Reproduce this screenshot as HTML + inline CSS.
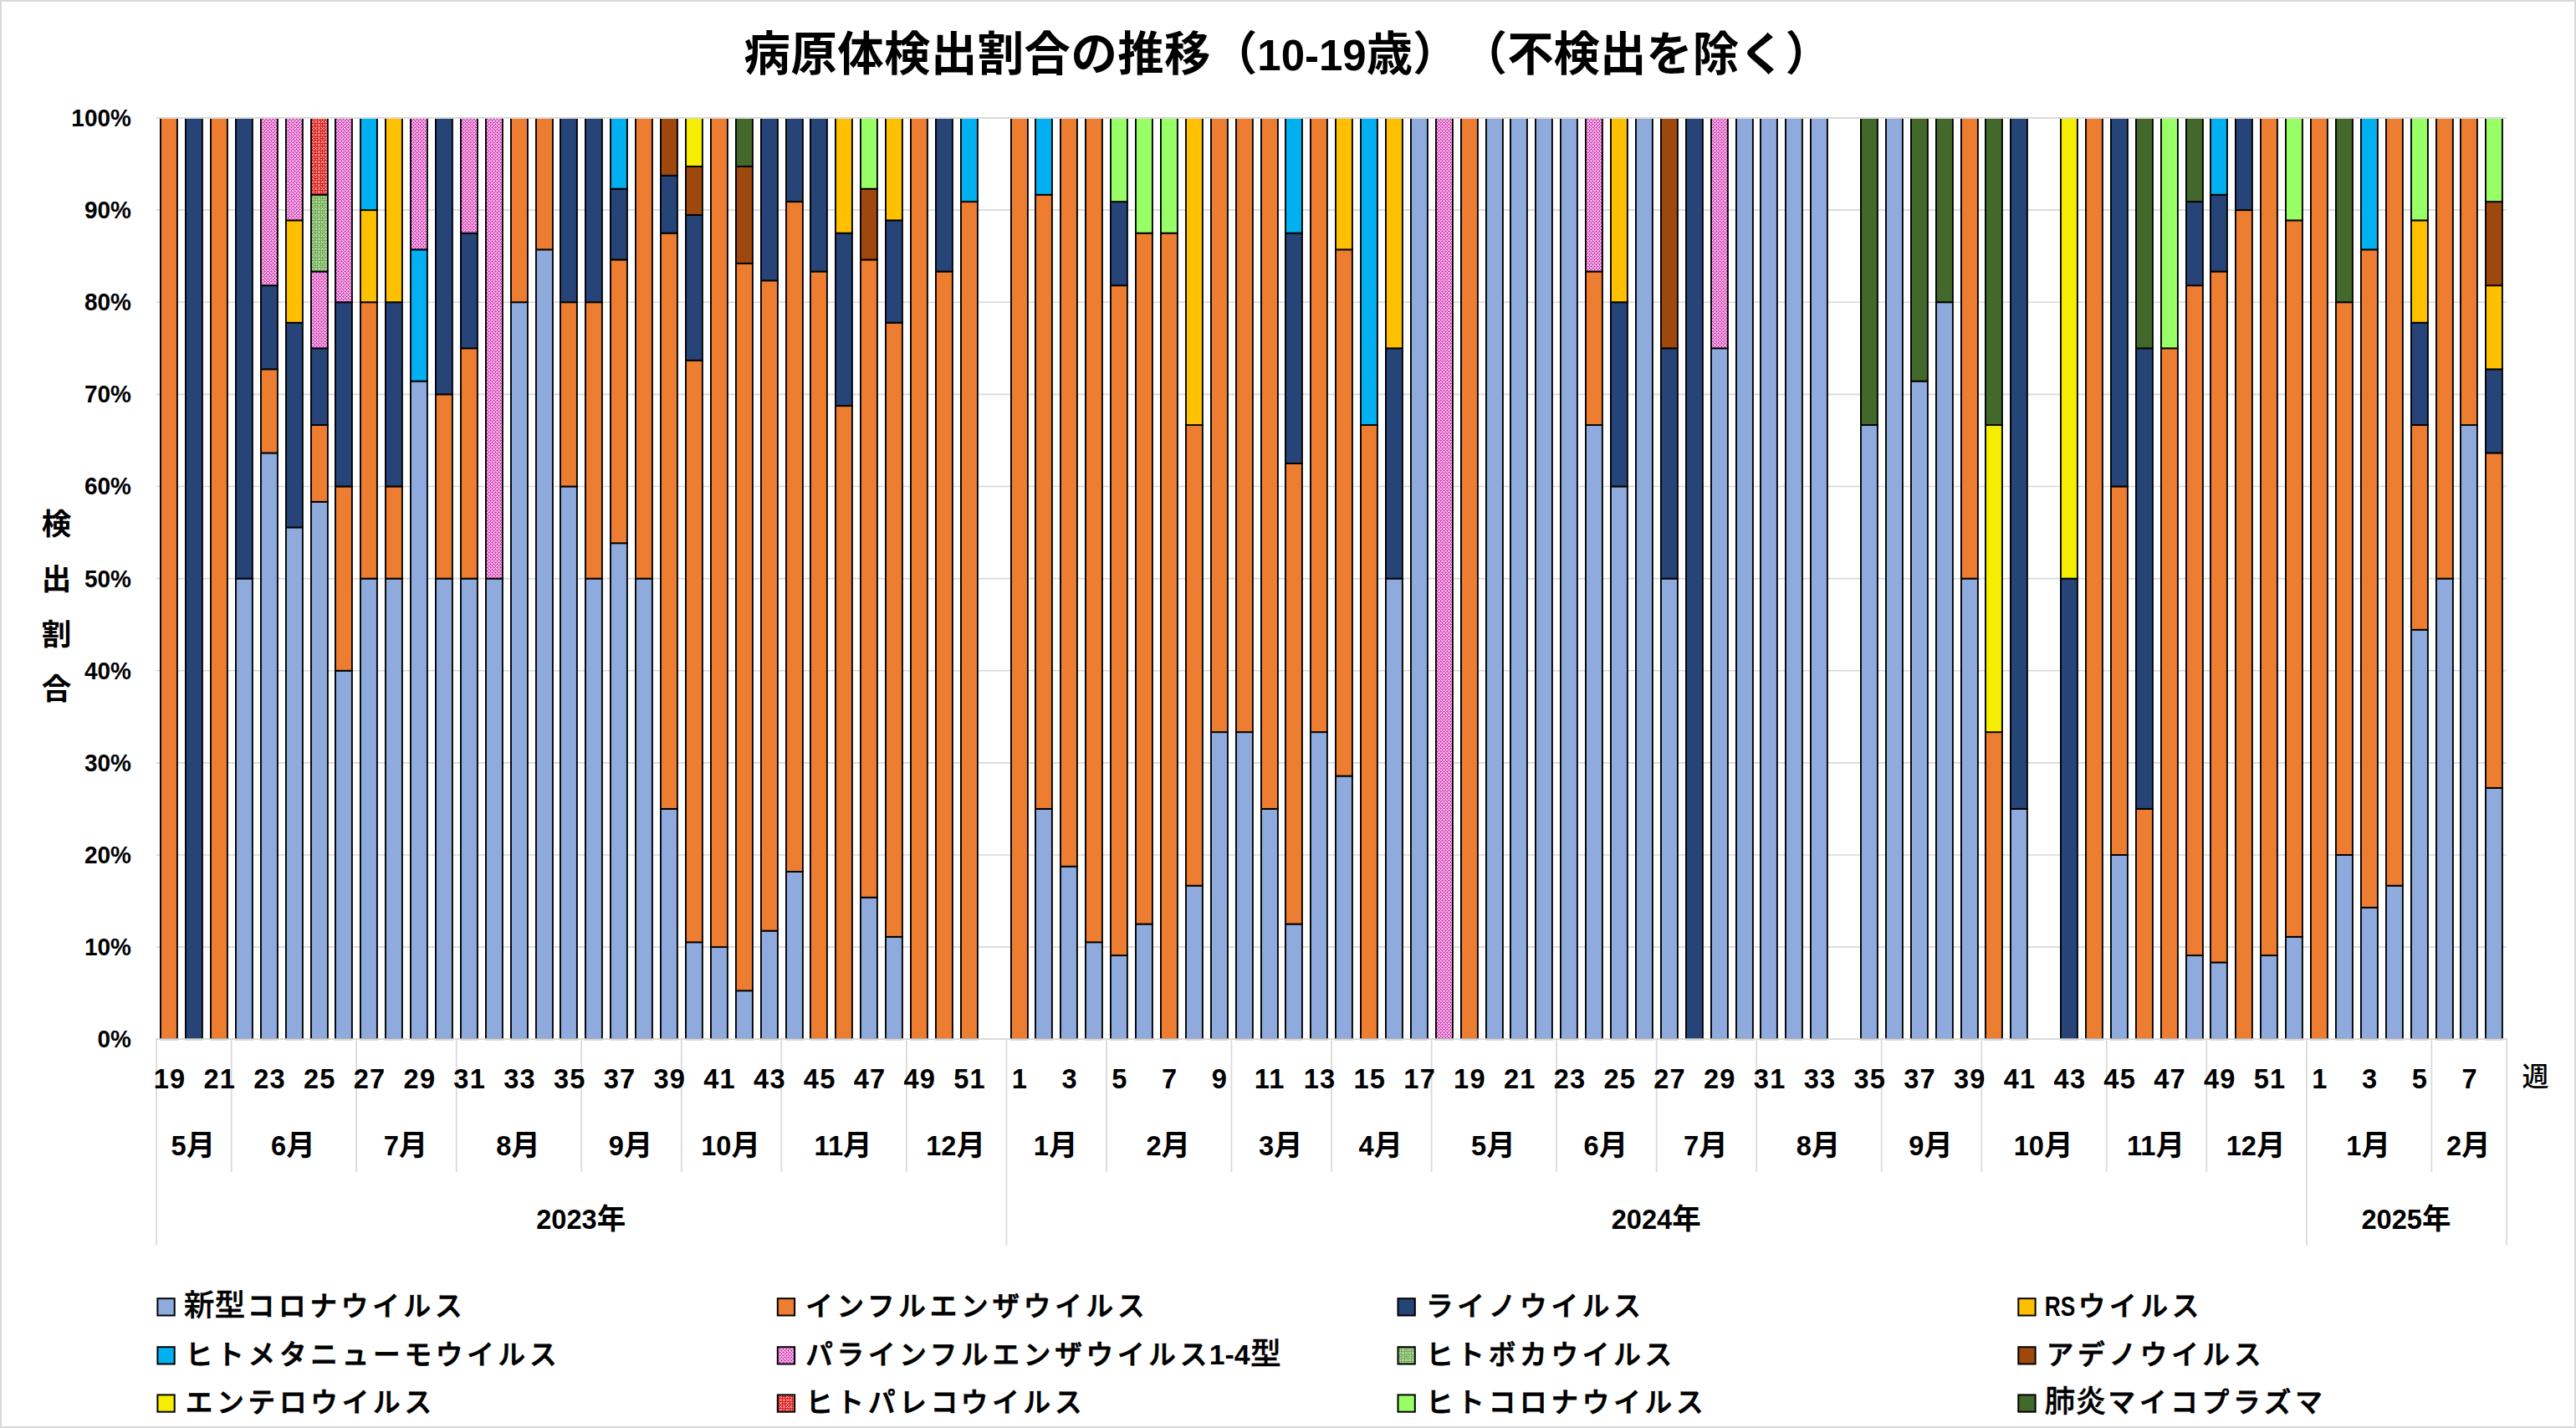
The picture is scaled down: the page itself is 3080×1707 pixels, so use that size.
<!DOCTYPE html>
<html lang="ja"><head><meta charset="utf-8"><title>病原体検出割合の推移（10-19歳）</title>
<style>html,body{margin:0;padding:0;background:#fff}svg{display:block}</style></head>
<body>
<svg width="3080" height="1707" viewBox="0 0 3080 1707">
<defs>
<pattern id="pP" width="4" height="4" patternUnits="userSpaceOnUse"><rect width="4" height="4" fill="#fff"/><g fill="#D63CB6"><rect x="0" y="0" width="1" height="1"/><rect x="1" y="0" width="1" height="1"/><rect x="3" y="0" width="1" height="1"/><rect x="0" y="1" width="1" height="1"/><rect x="0" y="3" width="1" height="1"/><rect x="2" y="2" width="1" height="1"/><rect x="1" y="2" width="1" height="1"/><rect x="3" y="2" width="1" height="1"/><rect x="2" y="1" width="1" height="1"/><rect x="2" y="3" width="1" height="1"/></g></pattern>
<pattern id="pK" width="8" height="8" patternUnits="userSpaceOnUse"><rect width="8" height="8" fill="#DC1414"/><g fill="#FBE0E0"><rect x="0" y="0" width="1" height="1"/><rect x="2" y="0" width="1" height="1"/><rect x="4" y="0" width="1" height="1"/><rect x="6" y="0" width="1" height="1"/><rect x="0" y="2" width="1" height="1"/><rect x="2" y="2" width="1" height="1"/><rect x="4" y="2" width="1" height="1"/><rect x="6" y="2" width="1" height="1"/><rect x="0" y="4" width="1" height="1"/><rect x="2" y="4" width="1" height="1"/><rect x="4" y="4" width="1" height="1"/><rect x="6" y="4" width="1" height="1"/><rect x="0" y="6" width="1" height="1"/><rect x="2" y="6" width="1" height="1"/><rect x="4" y="6" width="1" height="1"/><rect x="6" y="6" width="1" height="1"/><rect x="1" y="1" width="1" height="1"/><rect x="5" y="1" width="1" height="1"/><rect x="5" y="5" width="1" height="1"/></g></pattern>
<pattern id="pB" width="8" height="8" patternUnits="userSpaceOnUse"><rect width="8" height="8" fill="#6BA84F"/><g fill="#E4F8D8"><rect x="0" y="0" width="1" height="1"/><rect x="2" y="0" width="1" height="1"/><rect x="4" y="0" width="1" height="1"/><rect x="6" y="0" width="1" height="1"/><rect x="0" y="2" width="1" height="1"/><rect x="2" y="2" width="1" height="1"/><rect x="4" y="2" width="1" height="1"/><rect x="6" y="2" width="1" height="1"/><rect x="0" y="4" width="1" height="1"/><rect x="2" y="4" width="1" height="1"/><rect x="4" y="4" width="1" height="1"/><rect x="6" y="4" width="1" height="1"/><rect x="0" y="6" width="1" height="1"/><rect x="2" y="6" width="1" height="1"/><rect x="4" y="6" width="1" height="1"/><rect x="6" y="6" width="1" height="1"/><rect x="1" y="1" width="1" height="1"/><rect x="5" y="1" width="1" height="1"/><rect x="5" y="5" width="1" height="1"/></g></pattern>
<clipPath id="cp"><rect x="187" y="141" width="2810.04" height="1103.2"/></clipPath>
</defs>
<rect width="3080" height="1707" fill="#fff"/>
<g stroke="#d9d9d9" stroke-width="1.6" fill="none">
<path d="M187 141H2997.04"/>
<path d="M187 251.12H2997.04"/>
<path d="M187 361.24H2997.04"/>
<path d="M187 471.36H2997.04"/>
<path d="M187 581.48H2997.04"/>
<path d="M187 691.6H2997.04"/>
<path d="M187 801.72H2997.04"/>
<path d="M187 911.84H2997.04"/>
<path d="M187 1021.96H2997.04"/>
<path d="M187 1132.08H2997.04"/>
<path d="M187 1242.2H2997.04"/>
</g>
<g stroke="#000" stroke-width="1.9" clip-path="url(#cp)">
<rect x="191.95" y="141" width="19.95" height="1101.2" fill="#ED7D31"/>
<rect x="221.95" y="141" width="19.95" height="1101.2" fill="#264478"/>
<rect x="251.95" y="141" width="19.95" height="1101.2" fill="#ED7D31"/>
<rect x="281.95" y="691.6" width="19.95" height="550.6" fill="#8FAADC"/>
<rect x="281.95" y="141" width="19.95" height="550.6" fill="#264478"/>
<rect x="311.95" y="541.44" width="19.95" height="700.76" fill="#8FAADC"/>
<rect x="311.95" y="441.33" width="19.95" height="100.11" fill="#ED7D31"/>
<rect x="311.95" y="341.22" width="19.95" height="100.11" fill="#264478"/>
<rect x="311.95" y="141" width="19.95" height="200.22" fill="url(#pP)"/>
<rect x="341.95" y="630.42" width="19.95" height="611.78" fill="#8FAADC"/>
<rect x="341.95" y="385.71" width="19.95" height="244.71" fill="#264478"/>
<rect x="341.95" y="263.36" width="19.95" height="122.36" fill="#FFC000"/>
<rect x="341.95" y="141" width="19.95" height="122.36" fill="url(#pP)"/>
<rect x="371.95" y="599.83" width="19.95" height="642.37" fill="#8FAADC"/>
<rect x="371.95" y="508.07" width="19.95" height="91.77" fill="#ED7D31"/>
<rect x="371.95" y="416.3" width="19.95" height="91.77" fill="#264478"/>
<rect x="371.95" y="324.53" width="19.95" height="91.77" fill="url(#pP)"/>
<rect x="371.95" y="232.77" width="19.95" height="91.77" fill="url(#pB)"/>
<rect x="371.95" y="141" width="19.95" height="91.77" fill="url(#pK)"/>
<rect x="400.95" y="801.72" width="19.95" height="440.48" fill="#8FAADC"/>
<rect x="400.95" y="581.48" width="19.95" height="220.24" fill="#ED7D31"/>
<rect x="400.95" y="361.24" width="19.95" height="220.24" fill="#264478"/>
<rect x="400.95" y="141" width="19.95" height="220.24" fill="url(#pP)"/>
<rect x="430.95" y="691.6" width="19.95" height="550.6" fill="#8FAADC"/>
<rect x="430.95" y="361.24" width="19.95" height="330.36" fill="#ED7D31"/>
<rect x="430.95" y="251.12" width="19.95" height="110.12" fill="#FFC000"/>
<rect x="430.95" y="141" width="19.95" height="110.12" fill="#00B0F0"/>
<rect x="460.95" y="691.6" width="19.95" height="550.6" fill="#8FAADC"/>
<rect x="460.95" y="581.48" width="19.95" height="110.12" fill="#ED7D31"/>
<rect x="460.95" y="361.24" width="19.95" height="220.24" fill="#264478"/>
<rect x="460.95" y="141" width="19.95" height="220.24" fill="#FFC000"/>
<rect x="490.95" y="455.63" width="19.95" height="786.57" fill="#8FAADC"/>
<rect x="490.95" y="298.31" width="19.95" height="157.31" fill="#00B0F0"/>
<rect x="490.95" y="141" width="19.95" height="157.31" fill="url(#pP)"/>
<rect x="520.95" y="691.6" width="19.95" height="550.6" fill="#8FAADC"/>
<rect x="520.95" y="471.36" width="19.95" height="220.24" fill="#ED7D31"/>
<rect x="520.95" y="141" width="19.95" height="330.36" fill="#264478"/>
<rect x="550.95" y="691.6" width="19.95" height="550.6" fill="#8FAADC"/>
<rect x="550.95" y="416.3" width="19.95" height="275.3" fill="#ED7D31"/>
<rect x="550.95" y="278.65" width="19.95" height="137.65" fill="#264478"/>
<rect x="550.95" y="141" width="19.95" height="137.65" fill="url(#pP)"/>
<rect x="580.95" y="691.6" width="19.95" height="550.6" fill="#8FAADC"/>
<rect x="580.95" y="141" width="19.95" height="550.6" fill="url(#pP)"/>
<rect x="610.95" y="361.24" width="19.95" height="880.96" fill="#8FAADC"/>
<rect x="610.95" y="141" width="19.95" height="220.24" fill="#ED7D31"/>
<rect x="640.95" y="298.31" width="19.95" height="943.89" fill="#8FAADC"/>
<rect x="640.95" y="141" width="19.95" height="157.31" fill="#ED7D31"/>
<rect x="669.95" y="581.48" width="19.95" height="660.72" fill="#8FAADC"/>
<rect x="669.95" y="361.24" width="19.95" height="220.24" fill="#ED7D31"/>
<rect x="669.95" y="141" width="19.95" height="220.24" fill="#264478"/>
<rect x="699.95" y="691.6" width="19.95" height="550.6" fill="#8FAADC"/>
<rect x="699.95" y="361.24" width="19.95" height="330.36" fill="#ED7D31"/>
<rect x="699.95" y="141" width="19.95" height="220.24" fill="#264478"/>
<rect x="729.95" y="649.25" width="19.95" height="592.95" fill="#8FAADC"/>
<rect x="729.95" y="310.42" width="19.95" height="338.83" fill="#ED7D31"/>
<rect x="729.95" y="225.71" width="19.95" height="84.71" fill="#264478"/>
<rect x="729.95" y="141" width="19.95" height="84.71" fill="#00B0F0"/>
<rect x="759.95" y="691.6" width="19.95" height="550.6" fill="#8FAADC"/>
<rect x="759.95" y="141" width="19.95" height="550.6" fill="#ED7D31"/>
<rect x="789.95" y="966.9" width="19.95" height="275.3" fill="#8FAADC"/>
<rect x="789.95" y="278.65" width="19.95" height="688.25" fill="#ED7D31"/>
<rect x="789.95" y="209.83" width="19.95" height="68.82" fill="#264478"/>
<rect x="789.95" y="141" width="19.95" height="68.83" fill="#9E480E"/>
<rect x="819.95" y="1126.28" width="19.95" height="115.92" fill="#8FAADC"/>
<rect x="819.95" y="430.79" width="19.95" height="695.49" fill="#ED7D31"/>
<rect x="819.95" y="256.92" width="19.95" height="173.87" fill="#264478"/>
<rect x="819.95" y="198.96" width="19.95" height="57.96" fill="#9E480E"/>
<rect x="819.95" y="141" width="19.95" height="57.96" fill="#F5EE00"/>
<rect x="849.95" y="1132.08" width="19.95" height="110.12" fill="#8FAADC"/>
<rect x="849.95" y="141" width="19.95" height="991.08" fill="#ED7D31"/>
<rect x="879.95" y="1184.24" width="19.95" height="57.96" fill="#8FAADC"/>
<rect x="879.95" y="314.87" width="19.95" height="869.37" fill="#ED7D31"/>
<rect x="879.95" y="198.96" width="19.95" height="115.92" fill="#9E480E"/>
<rect x="879.95" y="141" width="19.95" height="57.96" fill="#43682B"/>
<rect x="909.95" y="1112.65" width="19.95" height="129.55" fill="#8FAADC"/>
<rect x="909.95" y="335.33" width="19.95" height="777.32" fill="#ED7D31"/>
<rect x="909.95" y="141" width="19.95" height="194.33" fill="#264478"/>
<rect x="939.95" y="1041.98" width="19.95" height="200.22" fill="#8FAADC"/>
<rect x="939.95" y="241.11" width="19.95" height="800.87" fill="#ED7D31"/>
<rect x="939.95" y="141" width="19.95" height="100.11" fill="#264478"/>
<rect x="968.95" y="324.53" width="19.95" height="917.67" fill="#ED7D31"/>
<rect x="968.95" y="141" width="19.95" height="183.53" fill="#264478"/>
<rect x="998.95" y="485.12" width="19.95" height="757.08" fill="#ED7D31"/>
<rect x="998.95" y="278.65" width="19.95" height="206.48" fill="#264478"/>
<rect x="998.95" y="141" width="19.95" height="137.65" fill="#FFC000"/>
<rect x="1028.95" y="1072.78" width="19.95" height="169.42" fill="#8FAADC"/>
<rect x="1028.95" y="310.42" width="19.95" height="762.37" fill="#ED7D31"/>
<rect x="1028.95" y="225.71" width="19.95" height="84.71" fill="#9E480E"/>
<rect x="1028.95" y="141" width="19.95" height="84.71" fill="#99FF66"/>
<rect x="1058.95" y="1119.84" width="19.95" height="122.36" fill="#8FAADC"/>
<rect x="1058.95" y="385.71" width="19.95" height="734.13" fill="#ED7D31"/>
<rect x="1058.95" y="263.36" width="19.95" height="122.36" fill="#264478"/>
<rect x="1058.95" y="141" width="19.95" height="122.36" fill="#FFC000"/>
<rect x="1088.95" y="141" width="19.95" height="1101.2" fill="#ED7D31"/>
<rect x="1118.95" y="324.53" width="19.95" height="917.67" fill="#ED7D31"/>
<rect x="1118.95" y="141" width="19.95" height="183.53" fill="#264478"/>
<rect x="1148.95" y="241.11" width="19.95" height="1001.09" fill="#ED7D31"/>
<rect x="1148.95" y="141" width="19.95" height="100.11" fill="#00B0F0"/>
<rect x="1208.95" y="141" width="19.95" height="1101.2" fill="#ED7D31"/>
<rect x="1237.95" y="966.9" width="19.95" height="275.3" fill="#8FAADC"/>
<rect x="1237.95" y="232.77" width="19.95" height="734.13" fill="#ED7D31"/>
<rect x="1237.95" y="141" width="19.95" height="91.77" fill="#00B0F0"/>
<rect x="1267.95" y="1035.72" width="19.95" height="206.48" fill="#8FAADC"/>
<rect x="1267.95" y="141" width="19.95" height="894.72" fill="#ED7D31"/>
<rect x="1297.95" y="1126.28" width="19.95" height="115.92" fill="#8FAADC"/>
<rect x="1297.95" y="141" width="19.95" height="985.28" fill="#ED7D31"/>
<rect x="1327.95" y="1142.09" width="19.95" height="100.11" fill="#8FAADC"/>
<rect x="1327.95" y="341.22" width="19.95" height="800.87" fill="#ED7D31"/>
<rect x="1327.95" y="241.11" width="19.95" height="100.11" fill="#264478"/>
<rect x="1327.95" y="141" width="19.95" height="100.11" fill="#99FF66"/>
<rect x="1357.95" y="1104.55" width="19.95" height="137.65" fill="#8FAADC"/>
<rect x="1357.95" y="278.65" width="19.95" height="825.9" fill="#ED7D31"/>
<rect x="1357.95" y="141" width="19.95" height="137.65" fill="#99FF66"/>
<rect x="1387.95" y="278.65" width="19.95" height="963.55" fill="#ED7D31"/>
<rect x="1387.95" y="141" width="19.95" height="137.65" fill="#99FF66"/>
<rect x="1417.95" y="1058.67" width="19.95" height="183.53" fill="#8FAADC"/>
<rect x="1417.95" y="508.07" width="19.95" height="550.6" fill="#ED7D31"/>
<rect x="1417.95" y="141" width="19.95" height="367.07" fill="#FFC000"/>
<rect x="1447.95" y="875.13" width="19.95" height="367.07" fill="#8FAADC"/>
<rect x="1447.95" y="141" width="19.95" height="734.13" fill="#ED7D31"/>
<rect x="1477.95" y="875.13" width="19.95" height="367.07" fill="#8FAADC"/>
<rect x="1477.95" y="141" width="19.95" height="734.13" fill="#ED7D31"/>
<rect x="1507.95" y="966.9" width="19.95" height="275.3" fill="#8FAADC"/>
<rect x="1507.95" y="141" width="19.95" height="825.9" fill="#ED7D31"/>
<rect x="1536.95" y="1104.55" width="19.95" height="137.65" fill="#8FAADC"/>
<rect x="1536.95" y="553.95" width="19.95" height="550.6" fill="#ED7D31"/>
<rect x="1536.95" y="278.65" width="19.95" height="275.3" fill="#264478"/>
<rect x="1536.95" y="141" width="19.95" height="137.65" fill="#00B0F0"/>
<rect x="1566.95" y="875.13" width="19.95" height="367.07" fill="#8FAADC"/>
<rect x="1566.95" y="141" width="19.95" height="734.13" fill="#ED7D31"/>
<rect x="1596.95" y="927.57" width="19.95" height="314.63" fill="#8FAADC"/>
<rect x="1596.95" y="298.31" width="19.95" height="629.26" fill="#ED7D31"/>
<rect x="1596.95" y="141" width="19.95" height="157.31" fill="#FFC000"/>
<rect x="1626.95" y="508.07" width="19.95" height="734.13" fill="#ED7D31"/>
<rect x="1626.95" y="141" width="19.95" height="367.07" fill="#00B0F0"/>
<rect x="1656.95" y="691.6" width="19.95" height="550.6" fill="#8FAADC"/>
<rect x="1656.95" y="416.3" width="19.95" height="275.3" fill="#264478"/>
<rect x="1656.95" y="141" width="19.95" height="275.3" fill="#FFC000"/>
<rect x="1686.95" y="141" width="19.95" height="1101.2" fill="#8FAADC"/>
<rect x="1716.95" y="141" width="19.95" height="1101.2" fill="url(#pP)"/>
<rect x="1746.95" y="141" width="19.95" height="1101.2" fill="#ED7D31"/>
<rect x="1776.95" y="141" width="19.95" height="1101.2" fill="#8FAADC"/>
<rect x="1805.95" y="141" width="19.95" height="1101.2" fill="#8FAADC"/>
<rect x="1835.95" y="141" width="19.95" height="1101.2" fill="#8FAADC"/>
<rect x="1865.95" y="141" width="19.95" height="1101.2" fill="#8FAADC"/>
<rect x="1895.95" y="508.07" width="19.95" height="734.13" fill="#8FAADC"/>
<rect x="1895.95" y="324.53" width="19.95" height="183.53" fill="#ED7D31"/>
<rect x="1895.95" y="141" width="19.95" height="183.53" fill="url(#pP)"/>
<rect x="1925.95" y="581.48" width="19.95" height="660.72" fill="#8FAADC"/>
<rect x="1925.95" y="361.24" width="19.95" height="220.24" fill="#264478"/>
<rect x="1925.95" y="141" width="19.95" height="220.24" fill="#FFC000"/>
<rect x="1955.95" y="141" width="19.95" height="1101.2" fill="#8FAADC"/>
<rect x="1985.95" y="691.6" width="19.95" height="550.6" fill="#8FAADC"/>
<rect x="1985.95" y="416.3" width="19.95" height="275.3" fill="#264478"/>
<rect x="1985.95" y="141" width="19.95" height="275.3" fill="#9E480E"/>
<rect x="2015.95" y="141" width="19.95" height="1101.2" fill="#264478"/>
<rect x="2045.95" y="416.3" width="19.95" height="825.9" fill="#8FAADC"/>
<rect x="2045.95" y="141" width="19.95" height="275.3" fill="url(#pP)"/>
<rect x="2075.95" y="141" width="19.95" height="1101.2" fill="#8FAADC"/>
<rect x="2104.95" y="141" width="19.95" height="1101.2" fill="#8FAADC"/>
<rect x="2134.95" y="141" width="19.95" height="1101.2" fill="#8FAADC"/>
<rect x="2164.95" y="141" width="19.95" height="1101.2" fill="#8FAADC"/>
<rect x="2224.95" y="508.07" width="19.95" height="734.13" fill="#8FAADC"/>
<rect x="2224.95" y="141" width="19.95" height="367.07" fill="#43682B"/>
<rect x="2254.95" y="141" width="19.95" height="1101.2" fill="#8FAADC"/>
<rect x="2284.95" y="455.63" width="19.95" height="786.57" fill="#8FAADC"/>
<rect x="2284.95" y="141" width="19.95" height="314.63" fill="#43682B"/>
<rect x="2314.95" y="361.24" width="19.95" height="880.96" fill="#8FAADC"/>
<rect x="2314.95" y="141" width="19.95" height="220.24" fill="#43682B"/>
<rect x="2344.95" y="691.6" width="19.95" height="550.6" fill="#8FAADC"/>
<rect x="2344.95" y="141" width="19.95" height="550.6" fill="#ED7D31"/>
<rect x="2373.95" y="875.13" width="19.95" height="367.07" fill="#ED7D31"/>
<rect x="2373.95" y="508.07" width="19.95" height="367.07" fill="#F5EE00"/>
<rect x="2373.95" y="141" width="19.95" height="367.07" fill="#43682B"/>
<rect x="2403.95" y="966.9" width="19.95" height="275.3" fill="#8FAADC"/>
<rect x="2403.95" y="141" width="19.95" height="825.9" fill="#264478"/>
<rect x="2463.95" y="691.6" width="19.95" height="550.6" fill="#264478"/>
<rect x="2463.95" y="141" width="19.95" height="550.6" fill="#F5EE00"/>
<rect x="2493.95" y="141" width="19.95" height="1101.2" fill="#ED7D31"/>
<rect x="2523.95" y="1021.96" width="19.95" height="220.24" fill="#8FAADC"/>
<rect x="2523.95" y="581.48" width="19.95" height="440.48" fill="#ED7D31"/>
<rect x="2523.95" y="141" width="19.95" height="440.48" fill="#264478"/>
<rect x="2553.95" y="966.9" width="19.95" height="275.3" fill="#ED7D31"/>
<rect x="2553.95" y="416.3" width="19.95" height="550.6" fill="#264478"/>
<rect x="2553.95" y="141" width="19.95" height="275.3" fill="#43682B"/>
<rect x="2583.95" y="416.3" width="19.95" height="825.9" fill="#ED7D31"/>
<rect x="2583.95" y="141" width="19.95" height="275.3" fill="#99FF66"/>
<rect x="2613.95" y="1142.09" width="19.95" height="100.11" fill="#8FAADC"/>
<rect x="2613.95" y="341.22" width="19.95" height="800.87" fill="#ED7D31"/>
<rect x="2613.95" y="241.11" width="19.95" height="100.11" fill="#264478"/>
<rect x="2613.95" y="141" width="19.95" height="100.11" fill="#43682B"/>
<rect x="2642.95" y="1150.43" width="19.95" height="91.77" fill="#8FAADC"/>
<rect x="2642.95" y="324.53" width="19.95" height="825.9" fill="#ED7D31"/>
<rect x="2642.95" y="232.77" width="19.95" height="91.77" fill="#264478"/>
<rect x="2642.95" y="141" width="19.95" height="91.77" fill="#00B0F0"/>
<rect x="2672.95" y="251.12" width="19.95" height="991.08" fill="#ED7D31"/>
<rect x="2672.95" y="141" width="19.95" height="110.12" fill="#264478"/>
<rect x="2702.95" y="1142.09" width="19.95" height="100.11" fill="#8FAADC"/>
<rect x="2702.95" y="141" width="19.95" height="1001.09" fill="#ED7D31"/>
<rect x="2732.95" y="1119.84" width="19.95" height="122.36" fill="#8FAADC"/>
<rect x="2732.95" y="263.36" width="19.95" height="856.49" fill="#ED7D31"/>
<rect x="2732.95" y="141" width="19.95" height="122.36" fill="#99FF66"/>
<rect x="2762.95" y="141" width="19.95" height="1101.2" fill="#ED7D31"/>
<rect x="2792.95" y="1021.96" width="19.95" height="220.24" fill="#8FAADC"/>
<rect x="2792.95" y="361.24" width="19.95" height="660.72" fill="#ED7D31"/>
<rect x="2792.95" y="141" width="19.95" height="220.24" fill="#43682B"/>
<rect x="2822.95" y="1084.89" width="19.95" height="157.31" fill="#8FAADC"/>
<rect x="2822.95" y="298.31" width="19.95" height="786.57" fill="#ED7D31"/>
<rect x="2822.95" y="141" width="19.95" height="157.31" fill="#00B0F0"/>
<rect x="2852.95" y="1058.67" width="19.95" height="183.53" fill="#8FAADC"/>
<rect x="2852.95" y="141" width="19.95" height="917.67" fill="#ED7D31"/>
<rect x="2882.95" y="752.78" width="19.95" height="489.42" fill="#8FAADC"/>
<rect x="2882.95" y="508.07" width="19.95" height="244.71" fill="#ED7D31"/>
<rect x="2882.95" y="385.71" width="19.95" height="122.36" fill="#264478"/>
<rect x="2882.95" y="263.36" width="19.95" height="122.36" fill="#FFC000"/>
<rect x="2882.95" y="141" width="19.95" height="122.36" fill="#99FF66"/>
<rect x="2912.95" y="691.6" width="19.95" height="550.6" fill="#8FAADC"/>
<rect x="2912.95" y="141" width="19.95" height="550.6" fill="#ED7D31"/>
<rect x="2941.95" y="508.07" width="19.95" height="734.13" fill="#8FAADC"/>
<rect x="2941.95" y="141" width="19.95" height="367.07" fill="#ED7D31"/>
<rect x="2971.95" y="941.87" width="19.95" height="300.33" fill="#8FAADC"/>
<rect x="2971.95" y="541.44" width="19.95" height="400.44" fill="#ED7D31"/>
<rect x="2971.95" y="441.33" width="19.95" height="100.11" fill="#264478"/>
<rect x="2971.95" y="341.22" width="19.95" height="100.11" fill="#FFC000"/>
<rect x="2971.95" y="241.11" width="19.95" height="100.11" fill="#9E480E"/>
<rect x="2971.95" y="141" width="19.95" height="100.11" fill="#99FF66"/>
</g>
<g stroke="#d9d9d9" stroke-width="1.75" fill="none">
<path d="M187 141H2997.04"/>
<path d="M186 1242.2H2998.04"/>
<path d="M276.68 1242.2V1400.8"/>
<path d="M426.15 1242.2V1400.8"/>
<path d="M545.73 1242.2V1400.8"/>
<path d="M695.2 1242.2V1400.8"/>
<path d="M814.77 1242.2V1400.8"/>
<path d="M934.35 1242.2V1400.8"/>
<path d="M1083.82 1242.2V1400.8"/>
<path d="M1322.97 1242.2V1400.8"/>
<path d="M1472.44 1242.2V1400.8"/>
<path d="M1592.02 1242.2V1400.8"/>
<path d="M1711.59 1242.2V1400.8"/>
<path d="M1861.06 1242.2V1400.8"/>
<path d="M1980.64 1242.2V1400.8"/>
<path d="M2100.22 1242.2V1400.8"/>
<path d="M2249.69 1242.2V1400.8"/>
<path d="M2369.26 1242.2V1400.8"/>
<path d="M2518.73 1242.2V1400.8"/>
<path d="M2638.31 1242.2V1400.8"/>
<path d="M2907.35 1242.2V1400.8"/>
<path d="M187 1242.2V1488.6"/>
<path d="M1203.4 1242.2V1488.6"/>
<path d="M2757.88 1242.2V1488.6"/>
<path d="M2997.04 1242.2V1488.6"/>
</g>
<g font-family="'Liberation Sans','Noto Sans CJK JP',sans-serif" font-weight="bold" font-size="29.4" text-anchor="end" fill="#000">
<text x="156.9" y="150.9" textLength="71.57" lengthAdjust="spacingAndGlyphs">100%</text>
<text x="156.9" y="261.02" textLength="56.01" lengthAdjust="spacingAndGlyphs">90%</text>
<text x="156.9" y="371.14" textLength="56.01" lengthAdjust="spacingAndGlyphs">80%</text>
<text x="156.9" y="481.26" textLength="56.01" lengthAdjust="spacingAndGlyphs">70%</text>
<text x="156.9" y="591.38" textLength="56.01" lengthAdjust="spacingAndGlyphs">60%</text>
<text x="156.9" y="701.5" textLength="56.01" lengthAdjust="spacingAndGlyphs">50%</text>
<text x="156.9" y="811.62" textLength="56.01" lengthAdjust="spacingAndGlyphs">40%</text>
<text x="156.9" y="921.74" textLength="56.01" lengthAdjust="spacingAndGlyphs">30%</text>
<text x="156.9" y="1031.86" textLength="56.01" lengthAdjust="spacingAndGlyphs">20%</text>
<text x="156.9" y="1141.98" textLength="56.01" lengthAdjust="spacingAndGlyphs">10%</text>
<text x="156.9" y="1252.1" textLength="40.44" lengthAdjust="spacingAndGlyphs">0%</text>
</g>
<g font-family="'Liberation Sans','Noto Sans CJK JP',sans-serif" font-weight="bold" font-size="32.6" letter-spacing="1.2" text-anchor="middle" fill="#000">
<text x="202.95" y="1300.7">19</text>
<text x="262.74" y="1300.7">21</text>
<text x="322.52" y="1300.7">23</text>
<text x="382.31" y="1300.7">25</text>
<text x="442.1" y="1300.7">27</text>
<text x="501.89" y="1300.7">29</text>
<text x="561.67" y="1300.7">31</text>
<text x="621.46" y="1300.7">33</text>
<text x="681.25" y="1300.7">35</text>
<text x="741.04" y="1300.7">37</text>
<text x="800.83" y="1300.7">39</text>
<text x="860.62" y="1300.7">41</text>
<text x="920.4" y="1300.7">43</text>
<text x="980.19" y="1300.7">45</text>
<text x="1039.98" y="1300.7">47</text>
<text x="1099.77" y="1300.7">49</text>
<text x="1159.55" y="1300.7">51</text>
<text x="1219.34" y="1300.7">1</text>
<text x="1279.13" y="1300.7">3</text>
<text x="1338.92" y="1300.7">5</text>
<text x="1398.71" y="1300.7">7</text>
<text x="1458.49" y="1300.7">9</text>
<text x="1518.28" y="1300.7">11</text>
<text x="1578.07" y="1300.7">13</text>
<text x="1637.86" y="1300.7">15</text>
<text x="1697.65" y="1300.7">17</text>
<text x="1757.43" y="1300.7">19</text>
<text x="1817.22" y="1300.7">21</text>
<text x="1877.01" y="1300.7">23</text>
<text x="1936.8" y="1300.7">25</text>
<text x="1996.59" y="1300.7">27</text>
<text x="2056.38" y="1300.7">29</text>
<text x="2116.16" y="1300.7">31</text>
<text x="2175.95" y="1300.7">33</text>
<text x="2235.74" y="1300.7">35</text>
<text x="2295.53" y="1300.7">37</text>
<text x="2355.32" y="1300.7">39</text>
<text x="2415.1" y="1300.7">41</text>
<text x="2474.89" y="1300.7">43</text>
<text x="2534.68" y="1300.7">45</text>
<text x="2594.47" y="1300.7">47</text>
<text x="2654.25" y="1300.7">49</text>
<text x="2714.04" y="1300.7">51</text>
<text x="2773.83" y="1300.7">1</text>
<text x="2833.62" y="1300.7">3</text>
<text x="2893.41" y="1300.7">5</text>
<text x="2953.19" y="1300.7">7</text>
</g>
<g font-family="'Liberation Sans','Noto Sans CJK JP',sans-serif" font-weight="bold" font-size="34.5" text-anchor="middle" fill="#000">
<text x="230.84" y="1381.2"><tspan font-size="32.6">5</tspan>月</text>
<text x="350.42" y="1381.2"><tspan font-size="32.6">6</tspan>月</text>
<text x="484.94" y="1381.2"><tspan font-size="32.6">7</tspan>月</text>
<text x="619.46" y="1381.2"><tspan font-size="32.6">8</tspan>月</text>
<text x="753.99" y="1381.2"><tspan font-size="32.6">9</tspan>月</text>
<text x="873.56" y="1381.2"><tspan font-size="32.6">10</tspan>月</text>
<text x="1008.08" y="1381.2"><tspan font-size="32.6">11</tspan>月</text>
<text x="1142.61" y="1381.2"><tspan font-size="32.6">12</tspan>月</text>
<text x="1262.18" y="1381.2"><tspan font-size="32.6">1</tspan>月</text>
<text x="1396.71" y="1381.2"><tspan font-size="32.6">2</tspan>月</text>
<text x="1531.23" y="1381.2"><tspan font-size="32.6">3</tspan>月</text>
<text x="1650.81" y="1381.2"><tspan font-size="32.6">4</tspan>月</text>
<text x="1785.33" y="1381.2"><tspan font-size="32.6">5</tspan>月</text>
<text x="1919.85" y="1381.2"><tspan font-size="32.6">6</tspan>月</text>
<text x="2039.43" y="1381.2"><tspan font-size="32.6">7</tspan>月</text>
<text x="2173.95" y="1381.2"><tspan font-size="32.6">8</tspan>月</text>
<text x="2308.47" y="1381.2"><tspan font-size="32.6">9</tspan>月</text>
<text x="2443" y="1381.2"><tspan font-size="32.6">10</tspan>月</text>
<text x="2577.52" y="1381.2"><tspan font-size="32.6">11</tspan>月</text>
<text x="2697.1" y="1381.2"><tspan font-size="32.6">12</tspan>月</text>
<text x="2831.62" y="1381.2"><tspan font-size="32.6">1</tspan>月</text>
<text x="2951.19" y="1381.2"><tspan font-size="32.6">2</tspan>月</text>
<text x="694.7" y="1468.5"><tspan font-size="32.6">2023</tspan>年</text>
<text x="1980.14" y="1468.5"><tspan font-size="32.6">2024</tspan>年</text>
<text x="2876.96" y="1468.5"><tspan font-size="32.6">2025</tspan>年</text>
</g>
<text x="3031.5" y="1298" font-family="'Liberation Sans','Noto Sans CJK JP',sans-serif" font-size="32" font-weight="500" text-anchor="middle">週</text>
<g font-family="'Liberation Sans','Noto Sans CJK JP',sans-serif" font-weight="bold" font-size="35.6" text-anchor="middle" fill="#000">
<text x="67.6" y="639.2">検</text>
<text x="67.6" y="704.8">出</text>
<text x="67.6" y="770.6">割</text>
<text x="67.6" y="835.8">合</text>
</g>
<g font-family="'Liberation Sans','Noto Sans CJK JP',sans-serif" font-weight="bold" font-size="55.4" fill="#000">
<text x="889.6" y="84" letter-spacing="0.44">病原体検出割合の推移</text>
<text x="1447.9" y="84">（<tspan font-size="51">10-19</tspan>歳）</text>
<text x="1746.8" y="84">（不検出を除く）</text>
</g>
<g stroke="#000" stroke-width="2">
<rect x="188.4" y="1552.2" width="20.3" height="20.3" fill="#8FAADC"/>
<rect x="929.8" y="1552.2" width="20.3" height="20.3" fill="#ED7D31"/>
<rect x="1671.5" y="1552.2" width="20.3" height="20.3" fill="#264478"/>
<rect x="2413.3" y="1552.2" width="20.3" height="20.3" fill="#FFC000"/>
<rect x="188.4" y="1610.2" width="20.3" height="20.3" fill="#00B0F0"/>
<rect x="929.8" y="1610.2" width="20.3" height="20.3" fill="url(#pP)"/>
<rect x="1671.5" y="1610.2" width="20.3" height="20.3" fill="url(#pB)"/>
<rect x="2413.3" y="1610.2" width="20.3" height="20.3" fill="#9E480E"/>
<rect x="188.4" y="1667.4" width="20.3" height="20.3" fill="#F5EE00"/>
<rect x="929.8" y="1667.4" width="20.3" height="20.3" fill="url(#pK)"/>
<rect x="1671.5" y="1667.4" width="20.3" height="20.3" fill="#99FF66"/>
<rect x="2413.3" y="1667.4" width="20.3" height="20.3" fill="#43682B"/>
</g>
<g font-family="'Liberation Sans','Noto Sans CJK JP',sans-serif" font-size="37.4" font-weight="500" fill="#000" stroke="#000" stroke-width="0.55">
<text x="219.4" y="1572.6"><tspan font-size="36.8" stroke-width="0.3" dx="0.3">新型</tspan><tspan font-size="32.6" letter-spacing="4.8" stroke-width="0.8" dx="2.4">コロナウイルス</tspan></text>
<text x="960.8" y="1572.6"><tspan font-size="32.6" letter-spacing="4.8" stroke-width="0.8" dx="2.4">インフルエンザウイルス</tspan></text>
<text x="1702.5" y="1572.6"><tspan font-size="32.6" letter-spacing="4.8" stroke-width="0.8" dx="2.4">ライノウイルス</tspan></text>
<text x="2444.8" y="1572.6" font-weight="bold" font-size="33" stroke="none" textLength="36.5" lengthAdjust="spacingAndGlyphs">RS</text>
<text x="2482.3" y="1572.6"><tspan font-size="32.6" letter-spacing="4.8" stroke-width="0.8" dx="2.4">ウイルス</tspan></text>
<text x="219.4" y="1630.6"><tspan font-size="32.6" letter-spacing="4.8" stroke-width="0.8" dx="2.4">ヒトメタニューモウイルス</tspan></text>
<text x="960.8" y="1630.6"><tspan font-size="32.6" letter-spacing="4.8" stroke-width="0.8" dx="2.4">パラインフルエンザウイルス</tspan><tspan font-weight="bold" font-size="33.8" stroke="none" dx="-2.4">1-4</tspan><tspan font-size="36.8" stroke-width="0.3" dx="0.3">型</tspan></text>
<text x="1702.5" y="1630.6"><tspan font-size="32.6" letter-spacing="4.8" stroke-width="0.8" dx="2.4">ヒトボカウイルス</tspan></text>
<text x="2444.3" y="1630.6"><tspan font-size="32.6" letter-spacing="4.8" stroke-width="0.8" dx="2.4">アデノウイルス</tspan></text>
<text x="219.4" y="1687.8"><tspan font-size="32.6" letter-spacing="4.8" stroke-width="0.8" dx="2.4">エンテロウイルス</tspan></text>
<text x="960.8" y="1687.8"><tspan font-size="32.6" letter-spacing="4.8" stroke-width="0.8" dx="2.4">ヒトパレコウイルス</tspan></text>
<text x="1702.5" y="1687.8"><tspan font-size="32.6" letter-spacing="4.8" stroke-width="0.8" dx="2.4">ヒトコロナウイルス</tspan></text>
<text x="2444.3" y="1687.8"><tspan font-size="36.8" stroke-width="0.3" dx="0.3">肺炎</tspan><tspan font-size="32.6" letter-spacing="4.8" stroke-width="0.8" dx="2.4">マイコプラズマ</tspan></text>
</g>
<rect x="1" y="1" width="3078" height="1705" fill="none" stroke="#d9d9d9" stroke-width="2"/>
</svg>
</body></html>
